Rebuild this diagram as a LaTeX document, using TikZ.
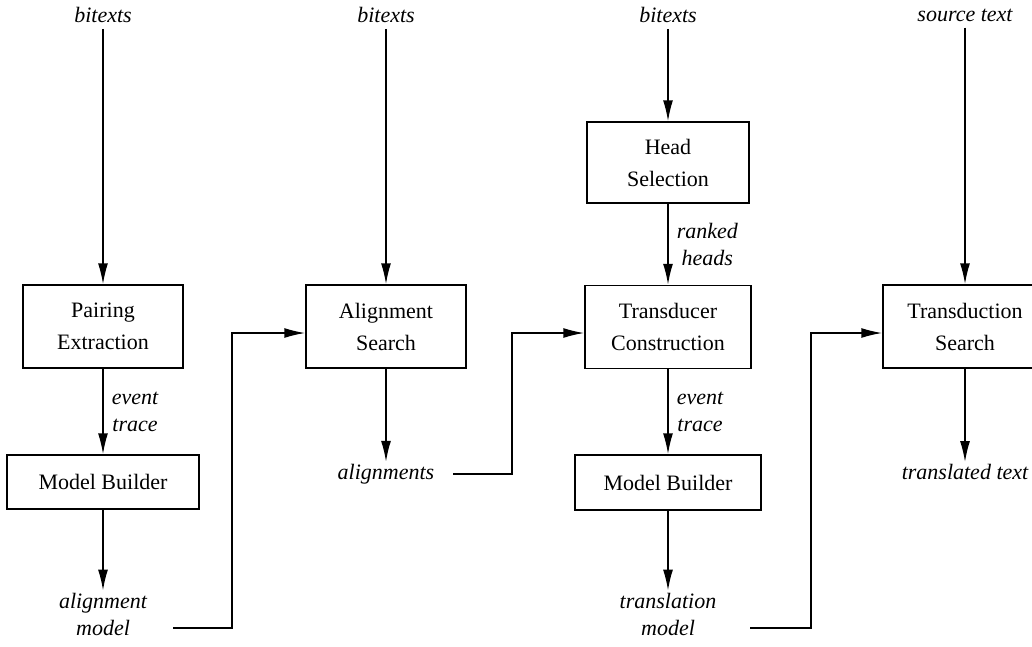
\documentclass[tikz,border=0pt]{standalone}
\usepackage{fontspec}
\setmainfont{Liberation Serif}
\usetikzlibrary{arrows.meta,calc}
\begin{document}
\begin{tikzpicture}[x=1pt,y=-1pt,
  box/.style={draw,line width=1.5pt,align=center,inner sep=0pt,
    font=\fontsize{22}{32}\selectfont},
  lbl/.style={align=center,inner sep=2pt,font=\fontsize{22}{27}\selectfont\itshape},
  arr/.style={line width=1.6pt,-{Latex[length=21pt,width=10pt]}},
  ln/.style={line width=1.6pt}]
\clip (0,0) rectangle (1032,646);
\fill[white] (0,0) rectangle (1032,646);
% top labels
\node[lbl] (b1) at (103,15) {bitexts};
\node[lbl] (b2) at (386,15) {bitexts};
\node[lbl] (b3) at (668,15) {bitexts};
\node[lbl] (st) at (965,15) {source text};
% boxes
\node[box,minimum width=160pt,minimum height=83pt] (pe) at (103,326.5) {Pairing\\Extraction};
\node[box,minimum width=192pt,minimum height=54pt] (mb1) at (103,482) {Model Builder};
\node[box,minimum width=160pt,minimum height=83pt] (as) at (386,326.5) {Alignment\\Search};
\node[box,minimum width=162pt,minimum height=81pt] (hs) at (668,162.5) {Head\\Selection};
\node[box,minimum width=166pt,minimum height=83pt] (tc) at (668,327) {Transducer\\Construction};
\node[box,minimum width=186pt,minimum height=55pt] (mb2) at (668,482.5) {Model Builder};
\node[box,minimum width=164pt,minimum height=83pt] (ts) at (965,326.5) {Transduction\\Search};
% bottom labels
\node[lbl] (am) at (103,614) {alignment\\model};
\node[lbl] (al) at (386,474) {alignments};
\node[lbl] (tm) at (668,614) {translation\\model};
\node[lbl] (tt) at (965,472) {translated text};
% vertical arrows
\draw[arr,shorten <=4pt] (b1) -- (pe);
\draw[arr,shorten <=4pt] (b2) -- (as);
\draw[arr,shorten <=4pt] (b3) -- (hs);
\draw[arr,shorten <=4pt] (st) -- (ts);
\draw[arr] (pe) -- node[lbl,anchor=west,xshift=6pt] {event\\trace} (mb1);
\draw[arr] (mb1) -- (am);
\draw[arr] (as) -- (al);
\draw[arr] (hs) -- node[lbl,anchor=west,xshift=6pt] {ranked\\heads} (tc);
\draw[arr] (tc) -- node[lbl,anchor=west,xshift=6pt] {event\\trace} (mb2);
\draw[arr] (mb2) -- (tm);
\draw[arr] (ts) -- (tt);
% feed connectors
\coordinate (s1) at (173,628);
\coordinate (k1) at (232,628);
\coordinate (s2) at (453,474);
\coordinate (k2) at (512,474);
\coordinate (s3) at (750,628);
\coordinate (k3) at (811,628);
\draw[arr] (s1) -- (k1) -- (k1 |- 0,333) -- ($(as.west)+(0,6.5)$);
\draw[arr] (s2) -- (k2) -- (k2 |- 0,333) -- ($(tc.west)+(0,6)$);
\draw[arr] (s3) -- (k3) -- (k3 |- 0,333) -- ($(ts.west)+(0,6.5)$);
\end{tikzpicture}
\end{document}
